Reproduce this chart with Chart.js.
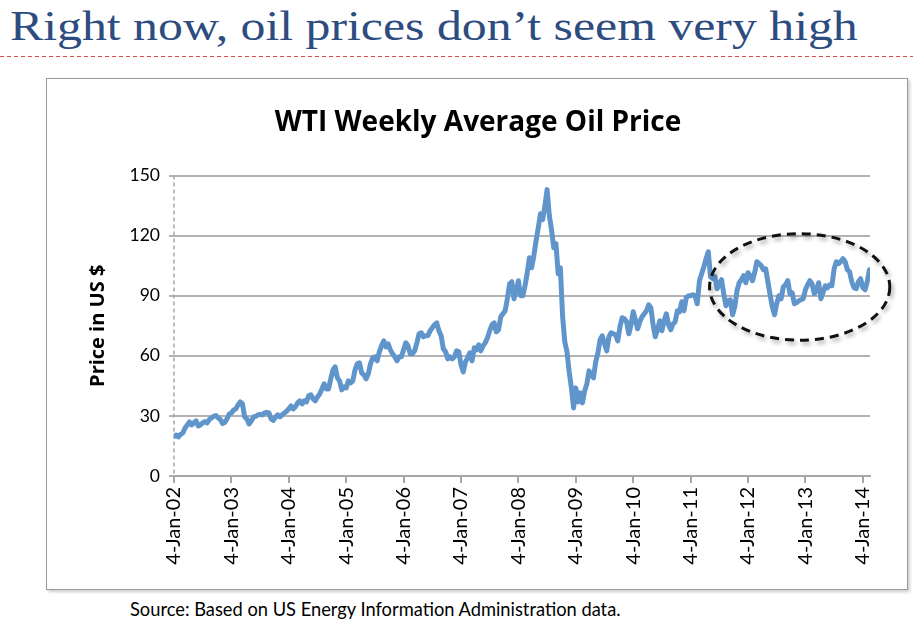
<!DOCTYPE html>
<html><head><meta charset="utf-8">
<script src="https://cdn.jsdelivr.net/npm/chart.js@4"></script>
<style>
html,body{margin:0;padding:0;background:#fff;}
#page{position:relative;width:913px;height:630px;overflow:hidden;background:#fff;}
#slideTitle{position:absolute;left:10px;top:0px;font-family:"Liberation Serif","Times New Roman",serif;font-size:43px;color:#2D4C80;white-space:nowrap;line-height:52px;transform-origin:0 0;transform:scaleX(1.158);}
#rule{position:absolute;left:0;top:56px;width:913px;height:1px;background:repeating-linear-gradient(to right,#E04848 0 4px,rgba(255,255,255,0) 4px 7px);}
#box{position:absolute;left:46px;top:78px;width:862px;height:512px;border:1px solid #9a9a9a;box-sizing:border-box;box-shadow:2px 2px 3px rgba(0,0,0,0.2);}
#source{position:absolute;left:130px;top:598px;font-family:Lato,sans-serif;font-size:18.3px;color:#000;white-space:nowrap;}
canvas{position:absolute;left:0;top:0;}
</style></head>
<body><div id="page">
<div id="slideTitle">Right now, oil prices don’t seem very high</div>
<div id="rule"></div>
<div id="box"><canvas id="c" width="860" height="510"></canvas></div>
<div id="source">Source: Based on US Energy Information Administration data.</div>
</div>
<script>
// Biweekly readings of the WTI weekly average price (US $), one array per year,
// each value two weeks after the previous one, starting 4 January.
const years = [2002,2003,2004,2005,2006,2007,2008,2009,2010,2011,2012,2013,2014];
const p2002 = [19.8,20.5,19.5,20.8,21.5,24.0,25.5,27.0,25.5,26.5,27.5,25.0,25.5,26.5,27.2,26.5,28.2,29.0,29.8,30.2,29.0,28.2,26.2,26.8,28.5,31.0];
const p2003 = [31.5,33.0,33.5,35.5,37.0,36.0,29.5,28.5,26.0,27.5,29.5,29.8,30.5,30.8,30.5,31.5,31.8,31.5,28.5,27.8,29.5,30.5,29.5,30.5,31.5,32.3];
const p2004 = [33.5,35.0,33.5,34.5,36.5,37.5,36.0,37.5,37.0,40.0,40.5,38.5,37.5,39.5,41.0,43.5,46.0,43.5,43.5,48.5,53.0,54.5,49.0,47.5,43.0,44.5];
const p2005 = [44.0,47.5,46.5,47.5,53.0,56.0,56.5,51.5,50.5,48.5,51.0,56.0,59.0,59.5,57.5,62.0,65.0,67.5,64.5,66.0,63.0,61.0,59.5,57.5,59.5,59.5];
const p2006 = [63.0,66.5,65.0,61.0,61.0,62.5,66.5,71.0,71.5,69.5,70.0,70.0,72.5,74.0,75.5,76.5,72.5,70.0,63.5,62.0,58.5,59.5,58.5,59.5,62.5,62.0];
const p2007 = [55.5,52.0,57.0,59.0,61.5,57.5,64.0,63.0,65.5,62.5,65.0,66.5,69.0,72.5,75.5,76.5,72.0,73.0,79.5,81.0,82.5,88.5,96.0,97.0,88.5,92.5];
const p2008 = [97.5,90.0,90.0,95.0,101.5,109.0,104.0,110.0,117.5,124.0,131.0,128.0,135.0,143.0,130.0,123.0,114.0,116.0,101.0,104.0,80.0,67.0,62.0,52.0,44.0,34.0];
const p2009 = [44.0,37.0,41.5,36.5,42.5,46.0,52.5,50.5,49.0,57.0,61.5,68.0,70.0,66.0,62.5,69.5,71.5,71.0,70.5,67.5,74.5,79.0,78.5,77.0,71.0,75.5];
const p2010 = [82.0,78.0,73.5,77.0,79.5,81.0,82.5,85.5,84.0,75.5,69.5,73.0,77.5,72.5,77.5,81.0,75.5,73.0,76.0,77.0,82.5,82.0,87.0,82.5,89.0,90.0];
const p2011 = [90.0,90.5,90.0,86.0,97.5,101.0,104.5,108.5,112.0,99.5,98.5,99.5,93.5,96.0,98.0,91.0,85.0,87.5,88.0,80.5,84.5,92.5,96.5,98.0,100.0,96.5];
const p2012 = [101.5,100.0,97.5,101.5,107.0,106.0,105.0,103.0,103.5,97.0,90.5,84.5,80.5,86.0,90.0,88.5,94.5,95.5,97.5,91.0,91.5,86.0,86.5,87.5,88.0,88.5];
const p2013 = [93.0,95.5,97.5,96.0,91.0,93.0,96.5,88.5,91.5,95.0,94.0,95.5,95.0,103.5,107.0,106.0,107.0,108.5,107.0,103.0,102.0,97.0,94.0,93.5,97.0,98.5];
const p2014 = [94.0,93.0,97.0,103.0];
const yearSeries = [p2002,p2003,p2004,p2005,p2006,p2007,p2008,p2009,p2010,p2011,p2012,p2013,p2014];
const tickYears = [2002,2003,2004,2005,2006,2007,2008,2009,2010,2011,2012,2013,2014];
const yTicks = [0,30,60,90,120,150];

const points = [];
yearSeries.forEach((arr, k) => arr.forEach((v, i) => points.push({x: years[k] + i / 26, y: v})));

// dashed ellipse highlighting 2011-2014, in data units
const highlight = {cx: 2012.9, cy: 94.4, rx: 1.57, ry: 26.6};

const dashedYAxis = {
  id: 'dashedYAxis',
  beforeDatasetsDraw(chart) {
    const {ctx, chartArea} = chart;
    ctx.save();
    ctx.strokeStyle = '#a6a6a6';
    ctx.lineWidth = 1.5;
    ctx.setLineDash([4, 3]);
    ctx.beginPath();
    ctx.moveTo(chartArea.left, chartArea.top);
    ctx.lineTo(chartArea.left, chartArea.bottom);
    ctx.stroke();
    ctx.restore();
  }
};

const ellipsePlugin = {
  id: 'ellipse',
  afterDatasetsDraw(chart) {
    const {ctx, scales: {x, y}} = chart;
    const cx = x.getPixelForValue(highlight.cx);
    const cy = y.getPixelForValue(highlight.cy);
    const rx = x.getPixelForValue(highlight.cx + highlight.rx) - cx;
    const ry = y.getPixelForValue(highlight.cy - highlight.ry) - cy;
    ctx.save();
    ctx.shadowColor = 'rgba(0,0,0,0.35)';
    ctx.shadowBlur = 4;
    ctx.shadowOffsetX = 2;
    ctx.shadowOffsetY = 3;
    ctx.strokeStyle = '#111';
    ctx.lineWidth = 3;
    ctx.setLineDash([9, 6]);
    ctx.beginPath();
    ctx.ellipse(cx, cy, rx, ry, 0, 0, Math.PI * 2);
    ctx.stroke();
    ctx.restore();
  }
};

new Chart(document.getElementById('c'), {
  type: 'line',
  data: {
    datasets: [{
      data: points,
      borderColor: '#6095CB',
      borderWidth: 5,
      pointRadius: 0,
      tension: 0,
      borderJoinStyle: 'round',
      borderCapStyle: 'round',
      fill: false
    }]
  },
  options: {
    responsive: false,
    devicePixelRatio: 1,
    animation: false,
    layout: {padding: {left: 39, right: 37, top: 0, bottom: 0}},
    plugins: {
      legend: {display: false},
      tooltip: {enabled: false},
      title: {
        display: true,
        text: 'WTI Weekly Average Oil Price',
        color: '#000',
        font: {family: 'Open Sans', size: 28, weight: 'bold'},
        padding: {top: 27, bottom: 36}
      }
    },
    scales: {
      x: {
        type: 'linear',
        min: 2002,
        max: 2014.125,
        afterBuildTicks(scale) { scale.ticks = tickYears.map(v => ({value: v})); },
        afterFit(scale) { scale.height = 113; },
        ticks: {
          autoSkip: false,
          maxRotation: 90,
          minRotation: 90,
          color: '#000',
          padding: 4,
          font: {family: 'Lato', size: 20},
          callback: v => '4-Jan-' + String(v).slice(2)
        },
        grid: {drawOnChartArea: false, drawTicks: true, tickLength: 7, color: '#a6a6a6', lineWidth: 2},
        border: {display: true, color: '#a6a6a6', width: 2}
      },
      y: {
        min: 0,
        max: 150,
        afterBuildTicks(scale) { scale.ticks = yTicks.map(v => ({value: v})); },
        afterFit(scale) { scale.width = 88; },
        ticks: {color: '#000', padding: 9, font: {family: 'Lato', size: 17.5}},
        grid: {color: '#b3b3b3', lineWidth: 2, tickLength: 5},
        border: {display: false},
        title: {display: true, text: 'Price in US $', color: '#000', font: {family: 'Open Sans', size: 20, weight: 'bold'}, padding: 0}
      }
    }
  },
  plugins: [dashedYAxis, ellipsePlugin]
});
</script>
</body></html>
